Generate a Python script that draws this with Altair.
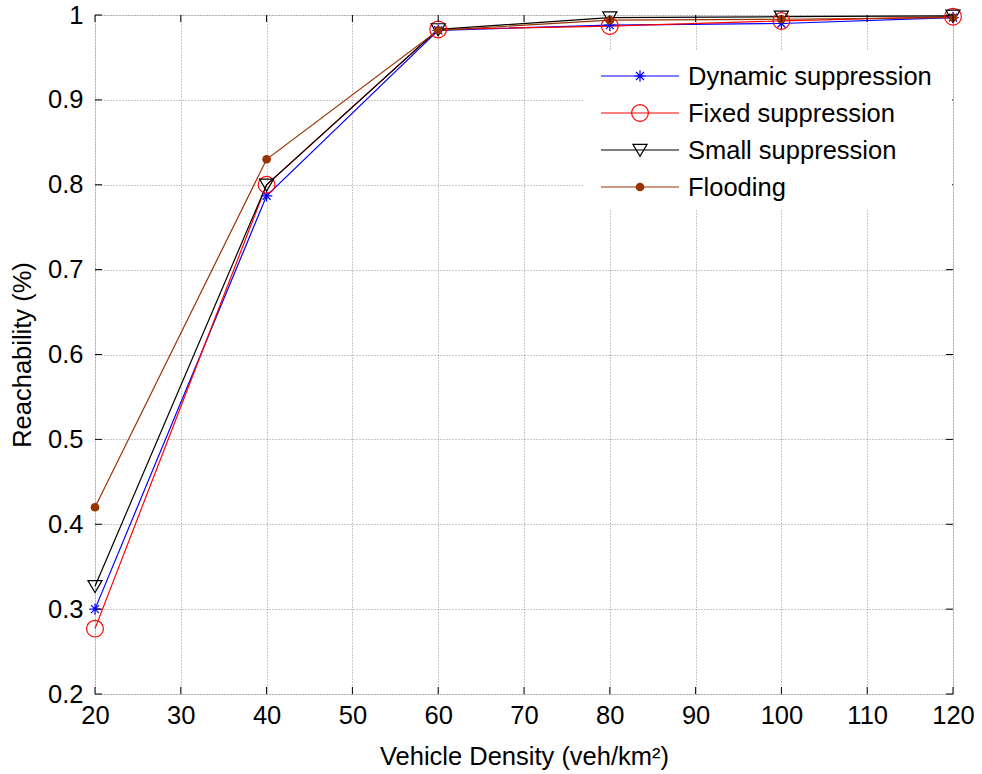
import altair as alt
import pandas as pd

density = [20, 40, 60, 80, 100, 120]
dynamic = [0.300, 0.787, 0.982, 0.988, 0.990, 0.997]
fixed = [0.277, 0.800, 0.983, 0.987, 0.993, 0.998]
small = [0.327, 0.800, 0.983, 0.997, 0.998, 0.999]
flooding = [0.420, 0.830, 0.982, 0.994, 0.995, 0.997]

series_names = ["Dynamic suppression", "Fixed suppression", "Small suppression", "Flooding"]
series_vals = [dynamic, fixed, small, flooding]
colors = ["#0000FF", "#FF0000", "#000000", "#993300"]

x_ticks = [20, 30, 40, 50, 60, 70, 80, 90, 100, 110, 120]
y_ticks = [0.2, 0.3, 0.4, 0.5, 0.6, 0.7, 0.8, 0.9, 1.0]

W, H = 858, 679
FONT = "Liberation Sans"
FS = 25.5

ASTERISK = "M-1,0L1,0M0,-1L0,1M-0.7,-0.7L0.7,0.7M-0.7,0.7L0.7,-0.7"
TRI_DOWN = "M-1,-0.8L1,-0.8L0,0.9Z"

marker_spec = {
    "Dynamic suppression": dict(shape=ASTERISK, filled=False, size=130, strokeWidth=1.2),
    "Fixed suppression": dict(shape="circle", filled=False, size=280, strokeWidth=1.2),
    "Small suppression": dict(shape=TRI_DOWN, filled=False, size=200, strokeWidth=1.2),
    "Flooding": dict(shape="circle", filled=True, size=75, strokeWidth=0),
}

rows = []
for name, vals in zip(series_names, series_vals):
    for d, v in zip(density, vals):
        rows.append({"density": d, "reach": v, "series": name})
df = pd.DataFrame(rows)

xscale = alt.Scale(domain=[20, 120], nice=False, zero=False)
yscale = alt.Scale(domain=[0.2, 1.0], nice=False, zero=False)

xaxis = alt.Axis(values=x_ticks, title="Vehicle Density (veh/km²)", grid=True,
                 gridColor="#777777", gridDash=[1, 2], gridWidth=0.8,
                 tickSize=0, domain=False, labelPadding=9, labelFontSize=FS,
                 titleFontSize=FS, labelFont=FONT, titleFont=FONT, titleFontWeight="normal",
                 labelColor="#000000", titleColor="#000000", titlePadding=16,
                 labelFlush=False, labelOverlap=False)
yaxis = alt.Axis(values=y_ticks, title="Reachability (%)", grid=True,
                 gridColor="#777777", gridDash=[1, 2], gridWidth=0.8,
                 tickSize=0, domain=False, labelPadding=12, labelFontSize=FS,
                 titleFontSize=FS, labelFont=FONT, titleFont=FONT, titleFontWeight="normal",
                 labelColor="#000000", titleColor="#000000", titlePadding=12,
                 format="~g", labelFlush=False, labelOverlap=False)

layers = []
base_grid = alt.Chart(df).mark_point(opacity=0).encode(
    x=alt.X("density:Q", scale=xscale, axis=xaxis),
    y=alt.Y("reach:Q", scale=yscale, axis=yaxis),
)
layers.append(base_grid)

for name, col in zip(series_names, colors):
    sub = df[df.series == name]
    line = alt.Chart(sub).mark_line(color=col, strokeWidth=1.2, clip=False).encode(
        x=alt.X("density:Q", scale=xscale),
        y=alt.Y("reach:Q", scale=yscale),
    )
    layers.append(line)

for name, col in zip(series_names, colors):
    sub = df[df.series == name]
    m = marker_spec[name]
    pt = alt.Chart(sub).mark_point(
        shape=m["shape"], filled=m["filled"], size=m["size"],
        strokeWidth=m["strokeWidth"], color=col, opacity=1, clip=False,
    ).encode(
        x=alt.X("density:Q", scale=xscale),
        y=alt.Y("reach:Q", scale=yscale),
    )
    layers.append(pt)

# inward tick marks
xt = pd.DataFrame({"t": x_ticks})
yt = pd.DataFrame({"t": y_ticks})
TL = 7
layers.append(alt.Chart(xt).mark_rule(color="black", strokeWidth=1).encode(
    x=alt.X("t:Q", scale=xscale), y=alt.value(H), y2=alt.value(H - TL)))
layers.append(alt.Chart(xt).mark_rule(color="black", strokeWidth=1).encode(
    x=alt.X("t:Q", scale=xscale), y=alt.value(0), y2=alt.value(TL)))
layers.append(alt.Chart(yt).mark_rule(color="black", strokeWidth=1).encode(
    y=alt.Y("t:Q", scale=yscale), x=alt.value(0), x2=alt.value(TL)))
layers.append(alt.Chart(yt).mark_rule(color="black", strokeWidth=1).encode(
    y=alt.Y("t:Q", scale=yscale), x=alt.value(W), x2=alt.value(W - TL)))

# legend box
leg_x0, leg_x1, leg_y0, leg_y1 = 489, 857, 36, 194
layers.append(alt.Chart(pd.DataFrame({"a": [0]})).mark_rect(color="white").encode(
    x=alt.value(leg_x0), x2=alt.value(leg_x1), y=alt.value(leg_y0), y2=alt.value(leg_y1)))

row_y = [61, 98, 135, 172]
for name, col, ry in zip(series_names, colors, row_y):
    one = pd.DataFrame({"label": [name]})
    layers.append(alt.Chart(one).mark_rule(color=col, strokeWidth=1.2).encode(
        x=alt.value(506), x2=alt.value(584), y=alt.value(ry)))
    m = marker_spec[name]
    layers.append(alt.Chart(one).mark_point(
        shape=m["shape"], filled=m["filled"], size=m["size"],
        strokeWidth=m["strokeWidth"], color=col, opacity=1).encode(
        x=alt.value(545), y=alt.value(ry)))
    layers.append(alt.Chart(one).mark_text(
        align="left", baseline="middle", font=FONT, fontSize=FS, color="black").encode(
        x=alt.value(593), y=alt.value(ry + 1), text="label:N"))

chart = alt.layer(*layers).properties(
    width=W, height=H,
    padding={"left": 95, "top": 15, "right": 29, "bottom": 80},
    autosize=alt.AutoSizeParams(type="none"),
).configure_view(stroke="black", strokeWidth=1.2).configure(background="white")

chart.save("out.html", embed_options={"renderer": "svg", "actions": False})
